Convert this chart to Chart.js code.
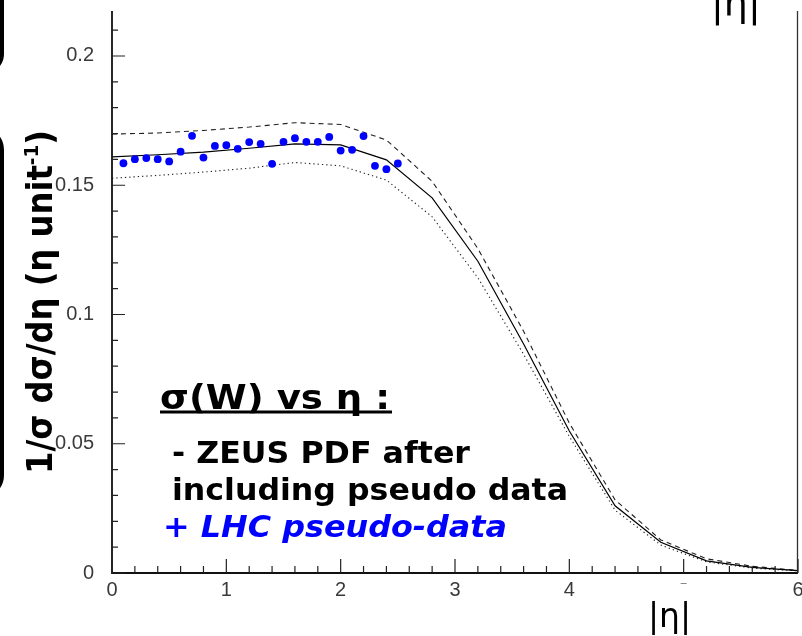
<!DOCTYPE html>
<html lang="en">
<head>
<meta charset="UTF-8">
<meta name="viewport" content="width=device-width, initial-scale=1.0">
<title>W rapidity</title>
<script src="https://cdn.jsdelivr.net/npm/chart.js@4.4.1/dist/chart.umd.min.js"></script>
<style>
  html, body { margin: 0; padding: 0; background: #fff; }
  #wrap { width: 802px; height: 636px; position: relative; }
</style>
</head>
<body>
<div id="wrap"><canvas id="eta"></canvas></div>
<script>
// ZEUS PDF band, sampled every 0.4 in |eta|
const etaKnots = [0, 0.4, 0.8, 1.2, 1.6, 2.0, 2.4, 2.8, 3.2, 3.6, 4.0, 4.4, 4.8, 5.2, 5.6, 6.0];
const zeusCentral = [0.1610, 0.1618, 0.1628, 0.1643, 0.1660, 0.1656, 0.1598, 0.1451, 0.1206, 0.0886, 0.0549, 0.0260, 0.0119, 0.0047, 0.0022, 0.0009];
const zeusUpper   = [0.1698, 0.1702, 0.1712, 0.1725, 0.1742, 0.1735, 0.1675, 0.1515, 0.1255, 0.0935, 0.0580, 0.0283, 0.0128, 0.0055, 0.0026, 0.0010];
const zeusLower   = [0.1527, 0.1538, 0.1551, 0.1566, 0.1588, 0.1575, 0.1520, 0.1378, 0.1142, 0.0846, 0.0528, 0.0243, 0.0108, 0.0043, 0.0019, 0.0008];

// LHC pseudo-data
const lhcEta = [0.1, 0.2, 0.3, 0.4, 0.5, 0.6, 0.7, 0.8, 0.9, 1.0, 1.1, 1.2, 1.3, 1.4, 1.5, 1.6, 1.7, 1.8, 1.9, 2.0, 2.1, 2.2, 2.3, 2.4, 2.5];
const lhcVal = [0.1585, 0.1601, 0.1605, 0.1601, 0.1592, 0.1630, 0.1691, 0.1607, 0.1652, 0.1655, 0.1641, 0.1667, 0.1660, 0.1583, 0.1668, 0.1682, 0.1668, 0.1668, 0.1687, 0.1634, 0.1637, 0.1690, 0.1575, 0.1562, 0.1584];

const xMin = 0, xMax = 6, xMajor = 1, xMinor = 0.2;
const yMin = 0, yMax = 0.2174, yMajor = 0.05, yMinor = 0.01;

function pts(xs, ys) { return xs.map((x, i) => ({ x: x, y: ys[i] })); }

const tickFont = { family: '"Liberation Sans", Arial, sans-serif', size: 20 };

// frame, inward ticks, titles and the text block
const decor = {
  id: 'decor',
  afterDraw(chart) {
    const ctx = chart.ctx, a = chart.chartArea;
    const xs = chart.scales.x, ys = chart.scales.y;
    ctx.save();

    // axes + right frame
    ctx.strokeStyle = '#111';
    ctx.lineWidth = 1.8;
    ctx.beginPath();
    ctx.moveTo(a.left, a.top); ctx.lineTo(a.left, a.bottom); ctx.lineTo(a.right, a.bottom);
    ctx.stroke();
    ctx.lineWidth = 1.3;
    ctx.strokeStyle = '#333';
    ctx.beginPath();
    ctx.moveTo(a.right - 0.5, a.top); ctx.lineTo(a.right - 0.5, a.bottom);
    ctx.stroke();

    // ticks pointing into the plot
    ctx.strokeStyle = '#222';
    ctx.lineWidth = 1.2;
    ctx.beginPath();
    for (let i = 0; xMin + i * xMinor <= xMax + 1e-9; i++) {
      const v = xMin + i * xMinor;
      const px = xs.getPixelForValue(v);
      const len = (i % 5 === 0) ? 14 : 7;
      ctx.moveTo(px, a.bottom); ctx.lineTo(px, a.bottom - len);
    }
    for (let i = 0; yMin + i * yMinor <= yMax + 1e-9; i++) {
      const v = yMin + i * yMinor;
      const py = ys.getPixelForValue(v);
      const len = (i % 5 === 0) ? 13 : 6;
      ctx.moveTo(a.left, py); ctx.lineTo(a.left + len, py);
    }
    ctx.stroke();

    // stray mark where the "5" label sits
    ctx.strokeStyle = '#888';
    ctx.lineWidth = 1;
    const p5 = xs.getPixelForValue(5);
    ctx.beginPath(); ctx.moveTo(p5 - 3, 583.5); ctx.lineTo(p5 + 3, 583.5); ctx.stroke();

    // rounded panel edges on the far left
    ctx.strokeStyle = '#000';
    ctx.lineWidth = 4;
    ctx.beginPath(); ctx.roundRect(-60, -40, 62, 112, 18); ctx.stroke();
    ctx.beginPath(); ctx.roundRect(-60, 128, 62, 369, 22); ctx.stroke();

    // y title, rotated
    ctx.fillStyle = '#000';
    ctx.textBaseline = 'alphabetic';
    ctx.textAlign = 'left';
    const big = 'bold 35px "DejaVu Sans", sans-serif';
    const small = 'bold 20px "DejaVu Sans", sans-serif';
    const main = '1/\u03c3 d\u03c3/d\u03b7 (\u03b7 unit';
    ctx.font = big; const w1 = ctx.measureText(main).width; const w3 = ctx.measureText(')').width;
    ctx.font = small; const w2 = ctx.measureText('-1').width;
    const sx = 344 / (w1 + w2 + w3);
    ctx.save();
    ctx.translate(52, 474);
    ctx.rotate(-Math.PI / 2);
    ctx.scale(sx, 1);
    ctx.font = big; ctx.fillText(main, 0, 0);
    ctx.font = small; ctx.fillText('-1', w1, -14);
    ctx.font = big; ctx.fillText(')', w1 + w2, 0);
    ctx.restore();

    // |eta| axis labels
    ctx.font = '33px "DejaVu Sans", sans-serif';
    ctx.fillText('|\u03b7|', 648, 627);
    ctx.font = '38px "DejaVu Sans", sans-serif';
    ctx.fillText('|\u03b7|', 711, 16);

    // text block
    function fit(str, x, y, font, width, color) {
      ctx.font = font;
      ctx.fillStyle = color;
      const w = ctx.measureText(str).width;
      ctx.save();
      ctx.translate(x, y);
      ctx.scale(width / w, 1);
      ctx.fillText(str, 0, 0);
      ctx.restore();
    }
    fit('\u03c3(W) vs \u03b7 :', 160, 409, 'bold 33px "DejaVu Sans", sans-serif', 230, '#000');
    ctx.fillRect(160, 410.5, 232, 3);
    fit('- ZEUS PDF after', 172, 463, 'bold 30px "DejaVu Sans", sans-serif', 298, '#000');
    fit('including pseudo data', 172, 500, 'bold 30px "DejaVu Sans", sans-serif', 396, '#000');
    fit('+ LHC pseudo-data', 163, 537, 'italic bold 30px "DejaVu Sans", sans-serif', 344, '#0000ff');

    ctx.restore();
  }
};

new Chart(document.getElementById('eta'), {
  type: 'scatter',
  data: {
    datasets: [
      {
        label: 'LHC pseudo-data',
        data: pts(lhcEta, lhcVal),
        backgroundColor: '#0000ff',
        borderColor: '#0000ff',
        pointRadius: 3.9,
        pointBorderWidth: 0,
        showLine: false
      },
      {
        label: 'ZEUS PDF',
        data: pts(etaKnots, zeusCentral),
        showLine: true,
        borderColor: '#000',
        borderWidth: 1.2,
        pointRadius: 0,
        tension: 0
      },
      {
        label: 'ZEUS PDF upper',
        data: pts(etaKnots, zeusUpper),
        showLine: true,
        borderColor: '#222',
        borderWidth: 1.1,
        borderDash: [5, 4],
        pointRadius: 0,
        tension: 0
      },
      {
        label: 'ZEUS PDF lower',
        data: pts(etaKnots, zeusLower),
        showLine: true,
        borderColor: '#222',
        borderWidth: 1.1,
        borderDash: [1.3, 3],
        pointRadius: 0,
        tension: 0
      }
    ]
  },
  options: {
    responsive: true,
    maintainAspectRatio: false,
    animation: false,
    layout: { padding: { top: 11, right: 2, left: 0, bottom: 0 } },
    plugins: { legend: { display: false }, tooltip: { enabled: false } },
    scales: {
      x: {
        type: 'linear',
        min: xMin, max: xMax,
        grid: { display: false, tickLength: 0 },
        border: { display: false },
        afterFit: s => { s.height = 63; s.paddingLeft = 0; s.paddingRight = 0; },
        ticks: {
          stepSize: xMajor,
          padding: 5,
          color: '#3a3a3a',
          font: tickFont,
          maxRotation: 0,
          callback: v => (v === 5 ? '' : String(v))
        }
      },
      y: {
        type: 'linear',
        min: yMin, max: yMax,
        grid: { display: false, tickLength: 0 },
        border: { display: false },
        afterFit: s => { s.width = 112; s.paddingTop = 0; s.paddingBottom = 0; },
        ticks: {
          stepSize: yMajor,
          includeBounds: false,
          padding: 18,
          color: '#3a3a3a',
          font: tickFont,
          callback: v => String(Number(v.toFixed(2)))
        }
      }
    }
  },
  plugins: [decor]
});
</script>
</body>
</html>
